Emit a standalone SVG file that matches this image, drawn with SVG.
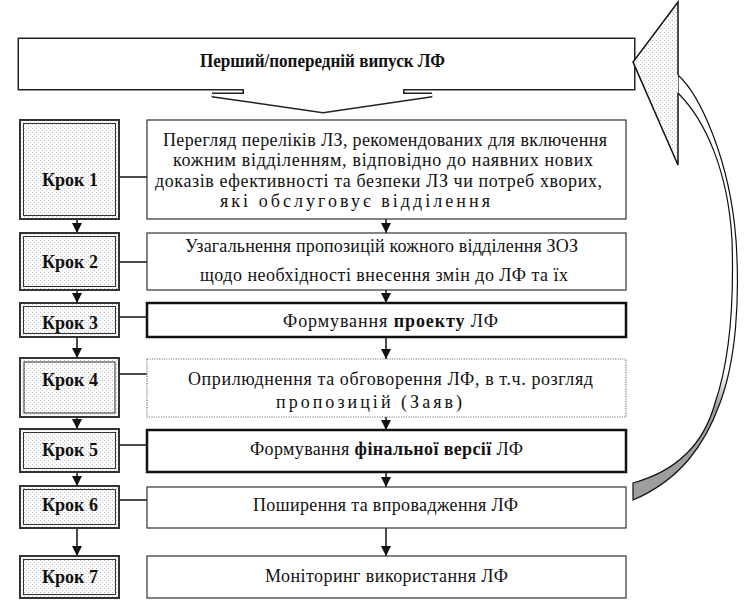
<svg xmlns="http://www.w3.org/2000/svg" width="744" height="608" viewBox="0 0 744 608">
<style>
text{font-family:"Liberation Serif","Times New Roman",serif;fill:#111}
.lbl{font-size:18px;font-weight:bold;text-anchor:middle}
.t{font-size:18px}
.b{font-weight:bold}
.kout{fill:url(#dots);stroke:#333;stroke-width:2}
.kin{fill:none;stroke:#333;stroke-width:1}
.box{fill:#fff;stroke:#333;stroke-width:1.2}
.thick{fill:#fff;stroke:#111;stroke-width:2.5}
.dot{fill:#fff;stroke:#777;stroke-width:1.2;stroke-dasharray:1.2 1.2}
.con{stroke:#111;stroke-width:1.5;fill:none}
</style>
<defs>
<pattern id="dots" width="4" height="4" patternUnits="userSpaceOnUse">
<rect width="4" height="4" fill="#fbfbfb"/>
<rect x="0" y="0" width="1" height="1" fill="#bdbdbd"/>
<rect x="2" y="2" width="1" height="1" fill="#cfcfcf"/>
</pattern>
<linearGradient id="rib" x1="0" y1="75" x2="0" y2="500" gradientUnits="userSpaceOnUse">
<stop offset="0" stop-color="#fff"/>
<stop offset="0.7" stop-color="#fff"/>
<stop offset="0.78" stop-color="#9e9e9e"/>
<stop offset="1" stop-color="#9e9e9e"/>
</linearGradient>
<marker id="ah" markerWidth="10" markerHeight="11" refX="10" refY="5" orient="auto" markerUnits="userSpaceOnUse">
<path d="M0,0 L10,5 L0,10 Z" fill="#111"/>
</marker>
</defs>

<g id="banner">
<path d="M20,40 H633 V88 H402 V95 H432 L323,111 L212,95 H245 V88 H20 Z" fill="#fff" stroke="#222" stroke-width="5" stroke-linejoin="miter"/>
<path d="M20,40 H633 V88 H402 V95 H432 L323,111 L212,95 H245 V88 H20 Z" fill="#fff" stroke="#fff" stroke-width="2"/>
<text x="200" y="67" font-size="18" font-weight="bold" textLength="245" lengthAdjust="spacingAndGlyphs">Перший/попередній випуск ЛФ</text>
</g>

<g id="cycle-arrow">
<path d="M678,75 C700,95 730,160 736,240 C740,300 736,360 720,403 C705,445 680,480 633,500 L633,483 C680,470 705,440 715,403 C730,360 734,300 732,240 C728,170 705,120 678,93 Z" fill="url(#rib)" stroke="#111" stroke-width="1.2"/>
<path d="M678,75 L678,2 L633,62 L678,165 L678,93" fill="url(#dots)" stroke="#111" stroke-width="1.5" stroke-linejoin="miter"/>
</g>

<g id="connectors">
<line class="con" x1="119" y1="177" x2="147" y2="177"/>
<line class="con" x1="119" y1="262" x2="147" y2="262"/>
<line class="con" x1="119" y1="317" x2="147" y2="317"/>
<line class="con" x1="119" y1="374" x2="147" y2="374"/>
<line class="con" x1="119" y1="445" x2="147" y2="445"/>
<line class="con" x1="119" y1="500" x2="147" y2="500"/>

<line class="con" x1="77" y1="219" x2="77" y2="233" marker-end="url(#ah)"/>
<line class="con" x1="77" y1="290" x2="77" y2="303" marker-end="url(#ah)"/>
<line class="con" x1="77" y1="337" x2="77" y2="358" marker-end="url(#ah)"/>
<line class="con" x1="77" y1="417" x2="77" y2="429" marker-end="url(#ah)"/>
<line class="con" x1="77" y1="472" x2="77" y2="486" marker-end="url(#ah)"/>
<line class="con" x1="77" y1="528" x2="77" y2="556" marker-end="url(#ah)"/>

<line class="con" x1="386" y1="219" x2="386" y2="233" marker-end="url(#ah)"/>
<line class="con" x1="386" y1="290" x2="386" y2="303" marker-end="url(#ah)"/>
<line class="con" x1="386" y1="337" x2="386" y2="359" marker-end="url(#ah)"/>
<line class="con" x1="386" y1="417" x2="386" y2="430" marker-end="url(#ah)"/>
<line class="con" x1="386" y1="472" x2="386" y2="487" marker-end="url(#ah)"/>
<line class="con" x1="386" y1="528" x2="386" y2="556" marker-end="url(#ah)"/>
</g>

<g id="krok1">
<rect class="kout" x="20" y="120" width="99" height="99"/>
<rect class="kin" x="23.5" y="123.5" width="92" height="92"/>
<text class="lbl" x="70" y="186">Крок 1</text>
</g>
<g id="krok2">
<rect class="kout" x="20" y="233" width="99" height="57"/>
<rect class="kin" x="23.5" y="236.5" width="92" height="50"/>
<text class="lbl" x="70" y="268">Крок 2</text>
</g>
<g id="krok3">
<rect class="kout" x="20" y="303" width="99" height="34"/>
<rect class="kin" x="23.5" y="306.5" width="92" height="27"/>
<text class="lbl" x="70" y="329">Крок 3</text>
</g>
<g id="krok4">
<rect class="kout" x="20" y="358" width="99" height="59" stroke="#111" stroke-width="3"/>
<rect class="kin" x="24" y="362" width="91" height="51"/>
<text class="lbl" x="70" y="386">Крок 4</text>
</g>
<g id="krok5">
<rect class="kout" x="20" y="429" width="99" height="43"/>
<rect class="kin" x="23.5" y="432.5" width="92" height="36"/>
<text class="lbl" x="70" y="456">Крок 5</text>
</g>
<g id="krok6">
<rect class="kout" x="20" y="486" width="99" height="42"/>
<rect class="kin" x="23.5" y="489.5" width="92" height="35"/>
<text class="lbl" x="70" y="511">Крок 6</text>
</g>
<g id="krok7">
<rect class="kout" x="20" y="556" width="99" height="42"/>
<rect class="kin" x="23.5" y="559.5" width="92" height="35"/>
<text class="lbl" x="70" y="583">Крок 7</text>
</g>

<g id="step1">
<rect class="box" x="147" y="120" width="479" height="99"/>
<text class="t" x="163" y="146" textLength="444" lengthAdjust="spacing">Перегляд переліків ЛЗ, рекомендованих для включення</text>
<text class="t" x="173" y="166" textLength="420" lengthAdjust="spacing">кожним відділенням, відповідно до наявних нових</text>
<text class="t" x="155" y="187" textLength="447" lengthAdjust="spacing">доказів ефективності та безпеки ЛЗ чи потреб хворих,</text>
<text class="t" x="220" y="207" textLength="270" lengthAdjust="spacing">які обслуговує відділення</text>
</g>
<g id="step2">
<rect class="box" x="147" y="233" width="479" height="57"/>
<text class="t" x="185" y="252" textLength="393" lengthAdjust="spacing">Узагальнення пропозицій кожного відділення  ЗОЗ</text>
<text class="t" x="200" y="281" textLength="368" lengthAdjust="spacing">щодо необхідності внесення змін до ЛФ та їх</text>
</g>
<g id="step3">
<rect class="thick" x="147" y="303" width="479" height="34"/>
<text class="t" x="283" y="327" textLength="215" lengthAdjust="spacing">Формування <tspan class="b">проекту</tspan> ЛФ</text>
</g>
<g id="step4">
<rect class="dot" x="147" y="359" width="479" height="58"/>
<text class="t" x="188" y="385" textLength="405" lengthAdjust="spacing">Оприлюднення та обговорення ЛФ, в т.ч. розгляд</text>
<text class="t" x="276" y="408" textLength="186" lengthAdjust="spacing">пропозицій (Заяв)</text>
</g>
<g id="step5">
<rect class="thick" x="147" y="430" width="479" height="42"/>
<text class="t" x="250" y="455" textLength="273" lengthAdjust="spacing">Формування <tspan class="b">фінальної версії</tspan> ЛФ</text>
</g>
<g id="step6">
<rect class="box" x="147" y="487" width="479" height="41"/>
<text class="t" x="253" y="511" textLength="265" lengthAdjust="spacing">Поширення та впровадження ЛФ</text>
</g>
<g id="step7">
<rect class="box" x="147" y="556" width="479" height="42"/>
<text class="t" x="265" y="582" textLength="243" lengthAdjust="spacing">Моніторинг використання ЛФ</text>
</g>
</svg>
